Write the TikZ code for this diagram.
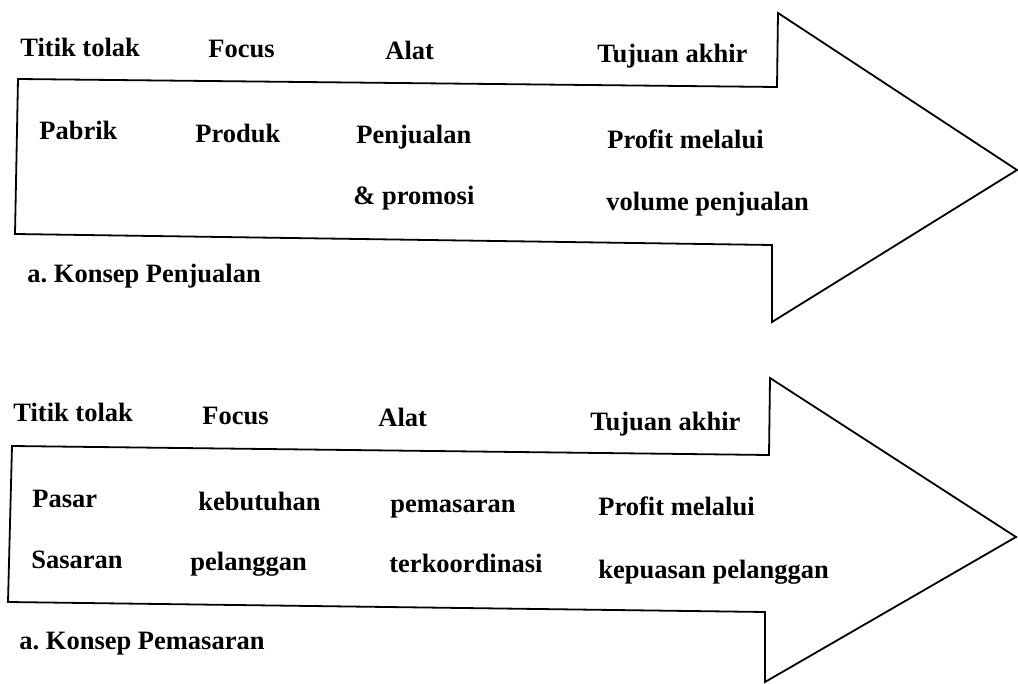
\documentclass[tikz,border=0pt]{standalone}
\usepackage{fontspec}
\setmainfont{Liberation Serif}
\frenchspacing
\begin{document}
\begin{tikzpicture}[x=0.5pt,y=-0.5pt,
  outline/.style={draw=black,line width=0.9pt,line join=miter},
  lbl/.style={inner sep=0pt,anchor=base west,font=\fontsize{13.25}{15}\selectfont\bfseries}]
\useasboundingbox (0,0) rectangle (1018,684);

% block arrow: sales concept
\draw[outline] (18,79) -- (777,87) -- (778,13) -- (1017,170) -- (772,322)
  -- (772,245) -- (15,234) -- cycle;
% block arrow: marketing concept
\draw[outline] (12,446) -- (769,455) -- (770,378) -- (1016,537) -- (765,682)
  -- (765,612) -- (8,602) -- cycle;

% sales concept
\node[lbl] (t1) at (20,57) {Titik tolak};
\node[lbl] (f1) at (208,58) {Focus};
\node[lbl] (a1) at (385,60) {Alat};
\node[lbl] (g1) at (597,63) {Tujuan akhir};
\node[lbl] (p1) at (39,140) {Pabrik};
\node[lbl] (q1) at (195,143) {Produk};
\node[lbl] (r1) at (356,144) {Penjualan};
\node[lbl] (s1) at (353,205) {\& promosi};
\node[lbl] (u1) at (607,149) {Profit melalui};
\node[lbl] (v1) at (606,211) {volume penjualan};
\node[lbl] (c1) at (27,283) {a. Konsep Penjualan};

% marketing concept
\node[lbl] (t2) at (13,422) {Titik tolak};
\node[lbl] (f2) at (202,424) {Focus};
\node[lbl] (a2) at (378,426) {Alat};
\node[lbl] (g2) at (590,430) {Tujuan akhir};
\node[lbl] (p2) at (32,507) {Pasar};
\node[lbl] (q2) at (198,510) {kebutuhan};
\node[lbl] (r2) at (390,512) {pemasaran};
\node[lbl] (u2) at (598,515) {Profit melalui};
\node[lbl] (p3) at (31,568) {Sasaran};
\node[lbl] (q3) at (190,570) {pelanggan};
\node[lbl] (r3) at (389,572) {terkoordinasi};
\node[lbl] (u3) at (598,578) {kepuasan pelanggan};
\node[lbl] (c2) at (19,649) {a. Konsep Pemasaran};
\end{tikzpicture}
\end{document}
